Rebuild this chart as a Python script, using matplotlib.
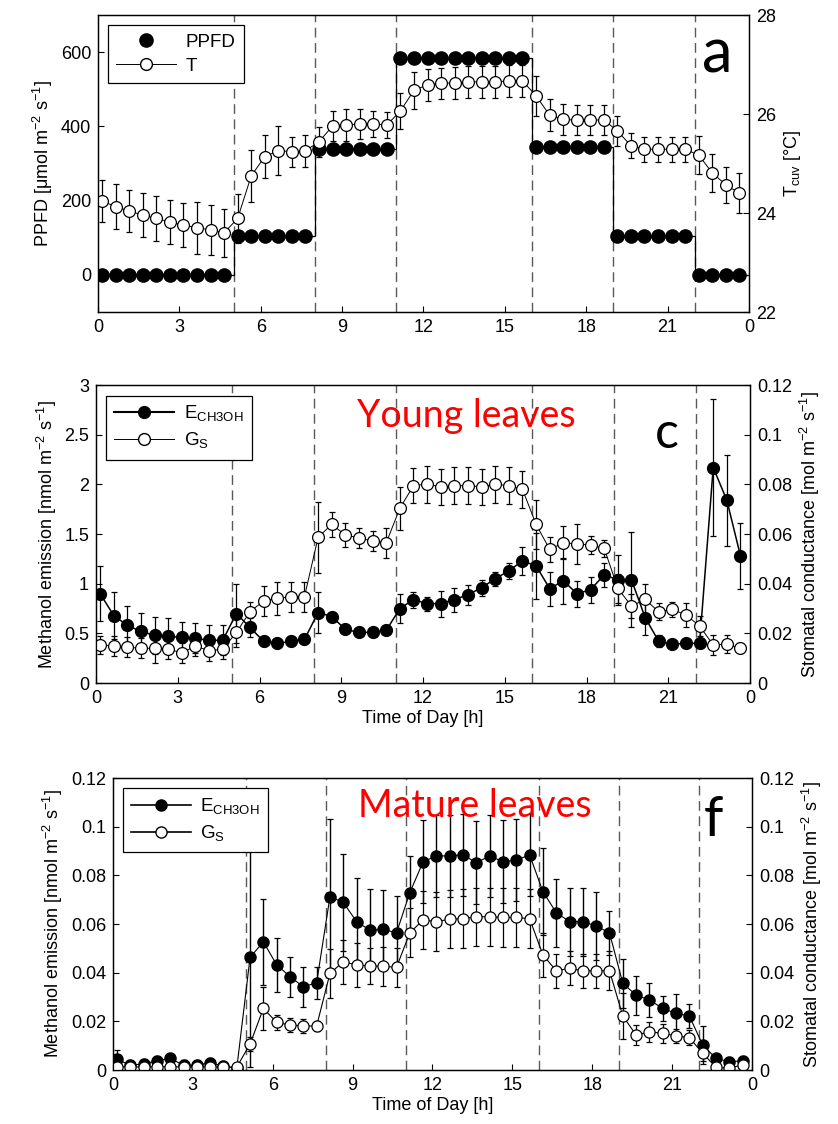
import numpy as np
import matplotlib
matplotlib.use("Agg")
import matplotlib.pyplot as plt
from matplotlib.lines import Line2D
from matplotlib.ticker import FuncFormatter

plt.rcParams['font.family'] = ['Liberation Sans', 'DejaVu Sans']
plt.rcParams['mathtext.fontset'] = 'custom'
plt.rcParams['mathtext.rm'] = 'Liberation Sans'
plt.rcParams['font.size'] = 13
plt.rcParams['axes.linewidth'] = 0.9

# half-hourly sampling times (h)
hours = np.arange(0.15, 24, 0.5)

# light schedule (step edges in h, PPFD levels)
light_edges = [0, 5, 8, 11, 16, 19, 22, 24]
light_levels = [0, 105, 340, 585, 345, 105, 0]

# panel a
ppfd = [0, 0, 0, 0, 0, 0, 0, 0, 0, 0,
        105, 105, 105, 105, 105, 105,
        340, 340, 340, 340, 340, 340,
        585, 585, 585, 585, 585, 585, 585, 585, 585, 585,
        345, 345, 345, 345, 345, 345,
        105, 105, 105, 105, 105, 105,
        0, 0, 0, 0]
temp = [24.24, 24.13, 24.04, 23.96, 23.89, 23.82, 23.76, 23.70, 23.66, 23.60,
        23.89, 24.75, 25.14, 25.26, 25.24, 25.26,
        25.44, 25.76, 25.78, 25.80, 25.80, 25.78,
        26.06, 26.48, 26.59, 26.62, 26.63, 26.65, 26.65, 26.65, 26.67, 26.67,
        26.37, 25.98, 25.89, 25.88, 25.88, 25.88,
        25.66, 25.36, 25.29, 25.29, 25.29, 25.29,
        25.17, 24.81, 24.57, 24.40]
temp_err = [0.42, 0.45, 0.42, 0.45, 0.45, 0.45, 0.45, 0.52, 0.50, 0.49,
            0.50, 0.53, 0.44, 0.50, 0.30, 0.32,
            0.30, 0.30, 0.33, 0.30, 0.27, 0.27,
            0.37, 0.37, 0.32, 0.32, 0.32, 0.32, 0.32, 0.32, 0.32, 0.32,
            0.40, 0.32, 0.32, 0.30, 0.30, 0.30,
            0.30, 0.25, 0.25, 0.25, 0.25, 0.25,
            0.38, 0.39, 0.37, 0.40]

# panel c - young leaves
young_e = [0.90, 0.68, 0.58, 0.52, 0.48, 0.47, 0.46, 0.45, 0.43, 0.43,
           0.70, 0.56, 0.42, 0.40, 0.42, 0.44,
           0.71, 0.67, 0.54, 0.51, 0.51, 0.53,
           0.75, 0.84, 0.80, 0.80, 0.84, 0.89, 0.96, 1.05, 1.13, 1.23,
           1.18, 0.95, 1.03, 0.90, 0.94, 1.09,
           1.04, 1.04, 0.66, 0.42, 0.39, 0.40,
           0.40, 2.17, 1.84, 1.28]
young_e_err = [0.28, 0.24, 0.20, 0.19, 0.19, 0.18, 0.15, 0.15, 0.15, 0.15,
               0.30, 0.10, 0.05, 0.05, 0.05, 0.05,
               0.21, 0.05, 0.04, 0.04, 0.04, 0.04,
               0.15, 0.08, 0.07, 0.13, 0.12, 0.10, 0.08, 0.07, 0.08, 0.14,
               0.33, 0.17, 0.23, 0.13, 0.13, 0.12,
               0.25, 0.48, 0.18, 0.06, 0.04, 0.04,
               0.05, 0.69, 0.46, 0.33]
young_gs = [0.0153, 0.0149, 0.0144, 0.0140, 0.0140, 0.0136, 0.0122, 0.0149, 0.0130, 0.0136,
            0.0204, 0.0287, 0.0331, 0.0341, 0.0348, 0.0348,
            0.0587, 0.0639, 0.0596, 0.0585, 0.0572, 0.0565,
            0.0704, 0.0795, 0.0801, 0.0790, 0.0795, 0.0795, 0.0790, 0.0801, 0.0795, 0.0780,
            0.0639, 0.0538, 0.0565, 0.0560, 0.0556, 0.0542,
            0.0381, 0.0310, 0.0337, 0.0287, 0.0297, 0.0274,
            0.0230, 0.0153, 0.0157, 0.0140]
young_gs_err = [0.0037, 0.004, 0.004, 0.004, 0.006, 0.004, 0.004, 0.004, 0.004, 0.004,
                0.0057, 0.004, 0.006, 0.0067, 0.006, 0.006,
                0.0144, 0.005, 0.005, 0.004, 0.004, 0.006,
                0.0087, 0.007, 0.0074, 0.0074, 0.0074, 0.0074, 0.0074, 0.0074, 0.0074, 0.0074,
                0.010, 0.005, 0.0067, 0.008, 0.0035, 0.0035,
                0.006, 0.005, 0.006, 0.0035, 0.003, 0.0047,
                0.004, 0.004, 0.0037, 0.002]

# panel f - mature leaves
mature_e = [0.0044, 0.0020, 0.0025, 0.0038, 0.0048, 0.0020, 0.0020, 0.0030, 0.0016, 0.0007,
            0.0463, 0.0527, 0.0432, 0.0384, 0.0342, 0.0359,
            0.0712, 0.0689, 0.0610, 0.0575, 0.0578, 0.0564,
            0.0729, 0.0856, 0.0880, 0.0880, 0.0884, 0.0852, 0.0880, 0.0856, 0.0863, 0.0884,
            0.0733, 0.0647, 0.0610, 0.0610, 0.0592, 0.0564,
            0.0356, 0.0308, 0.0288, 0.0253, 0.0233, 0.0222,
            0.0103, 0.0048, 0.0034, 0.0038]
mature_e_err = [0.004, 0.002, 0.002, 0.002, 0.002, 0.002, 0.002, 0.002, 0.002, 0.002,
                0.045, 0.0176, 0.011, 0.0082, 0.0082, 0.0065,
                0.032, 0.020, 0.018, 0.017, 0.016, 0.015,
                0.015, 0.017, 0.017, 0.017, 0.017, 0.017, 0.017, 0.017, 0.017, 0.017,
                0.018, 0.014, 0.014, 0.014, 0.014, 0.009,
                0.010, 0.008, 0.007, 0.005, 0.008, 0.005,
                0.008, 0.002, 0.002, 0.002]
mature_gs = [0.0014, 0.0013, 0.0012, 0.0014, 0.0013, 0.0013, 0.0013, 0.0013, 0.0012, 0.0012,
             0.0107, 0.0253, 0.0196, 0.0185, 0.0181, 0.0181,
             0.0397, 0.0445, 0.0432, 0.0427, 0.0427, 0.0422,
             0.0564, 0.0617, 0.0610, 0.0620, 0.0622, 0.0630, 0.0630, 0.0627, 0.0627, 0.0622,
             0.0473, 0.0408, 0.0418, 0.0408, 0.0408, 0.0408,
             0.0222, 0.0144, 0.0157, 0.0151, 0.0140, 0.0133,
             0.0069, 0.0011, 0.0008, 0.0021]
mature_gs_err = [0.001, 0.001, 0.001, 0.001, 0.001, 0.001, 0.001, 0.001, 0.001, 0.001,
                 0.003, 0.009, 0.003, 0.003, 0.003, 0.002,
                 0.010, 0.009, 0.009, 0.0075, 0.008, 0.008,
                 0.010, 0.012, 0.012, 0.012, 0.012, 0.012, 0.012, 0.012, 0.012, 0.012,
                 0.009, 0.007, 0.007, 0.007, 0.007, 0.008,
                 0.0095, 0.004, 0.004, 0.004, 0.003, 0.003,
                 0.003, 0.001, 0.001, 0.001]

xtick_vals = [0, 3, 6, 9, 12, 15, 18, 21, 24]
xtick_labels = ['0', '3', '6', '9', '12', '15', '18', '21', '0']

unit_nmol = r'[nmol m$^{\mathregular{-2}}$ s$^{\mathregular{-1}}$]'
unit_mol = r'[mol m$^{\mathregular{-2}}$ s$^{\mathregular{-1}}$]'
lbl_e = r'E$_{\mathregular{CH3OH}}$'
lbl_gs = r'G$_{\mathregular{S}}$'

gfmt = FuncFormatter(lambda v, p: '%g' % v)
letter_font = ['Lato', 'DejaVu Sans']
label_size = 13


def setup_axes(ax, ax2):
    ax.set_xlim(0, 24)
    ax.set_xticks(xtick_vals)
    ax.set_xticklabels(xtick_labels)
    ax.tick_params(direction='in', length=4, width=0.8, right=False, top=False, pad=5)
    ax2.tick_params(direction='in', length=4, width=0.8, pad=5)
    for x in light_edges[1:-1]:
        ax.axvline(x, color='0.35', lw=1.0, dashes=(7, 4), zorder=0)


def legend_box(ax2, handles, labels):
    leg = ax2.legend(handles, labels, loc='upper left', bbox_to_anchor=(0.015, 0.965),
                     borderaxespad=0, fancybox=False, framealpha=1, edgecolor='k',
                     handlelength=3.2, handletextpad=0.5, labelspacing=0.35,
                     borderpad=0.45, fontsize=13.5)
    leg.get_frame().set_linewidth(0.9)


fig = plt.figure(figsize=(8.38, 11.24), dpi=100)

# ---- panel a ----
ax = fig.add_axes([0.1169, 0.7224, 0.7768, 0.2642])
ax2 = ax.twinx()
setup_axes(ax, ax2)
ax.stairs(light_levels, light_edges, color='k', lw=0.9, zorder=2)
ax.plot(hours, ppfd, 'o', color='k', ms=9.5, zorder=3)
ax2.errorbar(hours, temp, yerr=temp_err, fmt='-o', color='k', lw=0.7, ms=8.5,
             mfc='white', mec='k', mew=0.9, elinewidth=0.9, capsize=2, capthick=0.9)
ax.set_ylim(-100, 700)
ax.set_yticks([0, 200, 400, 600])
ax2.set_ylim(22, 28)
ax2.set_yticks([22, 24, 26, 28])
ax.set_ylabel(r'PPFD [$\mathregular{\mu}$mol m$^{\mathregular{-2}}$ s$^{\mathregular{-1}}$]',
              fontsize=label_size)
ax2.set_ylabel(r'T$_{\mathregular{cuv}}$ [°C]', fontsize=label_size)
h_ppfd = Line2D([], [], ls='none', marker='o', color='k', ms=9.5)
h_t = Line2D([], [], ls='-', lw=0.7, marker='o', color='k', mfc='white', ms=8.5)
legend_box(ax2, [h_ppfd, h_t], ['PPFD', 'T'])
ax2.text(0.951, 0.865, 'a', transform=ax2.transAxes, fontsize=44, family=letter_font,
         ha='center', va='center')

# ---- panel c ----
ax = fig.add_axes([0.1146, 0.3923, 0.7804, 0.2651])
ax2 = ax.twinx()
setup_axes(ax, ax2)
ax.errorbar(hours, young_e, yerr=young_e_err, fmt='-o', color='k', lw=1.1, ms=8.5,
            mfc='k', elinewidth=0.9, capsize=2, capthick=0.9)
ax2.errorbar(hours, young_gs, yerr=young_gs_err, fmt='-o', color='k', lw=0.7, ms=8.5,
             mfc='white', mec='k', mew=0.9, elinewidth=0.9, capsize=2, capthick=0.9)
ax.set_ylim(0, 3)
ax.set_yticks([0, 0.5, 1, 1.5, 2, 2.5, 3])
ax.yaxis.set_major_formatter(gfmt)
ax2.set_ylim(0, 0.12)
ax2.set_yticks([0, 0.02, 0.04, 0.06, 0.08, 0.1, 0.12])
ax2.yaxis.set_major_formatter(gfmt)
ax.set_ylabel('Methanol emission ' + unit_nmol, fontsize=label_size)
ax2.set_ylabel('Stomatal conductance ' + unit_mol, fontsize=label_size)
ax.set_xlabel('Time of Day [h]', fontsize=label_size, labelpad=2)
h_e = Line2D([], [], ls='-', lw=1.5, marker='o', color='k', ms=8.5)
h_gs = Line2D([], [], ls='-', lw=0.7, marker='o', color='k', mfc='white', ms=8.5)
legend_box(ax2, [h_e, h_gs], [lbl_e, lbl_gs])
ax2.text(0.566, 0.859, 'Young leaves', transform=ax2.transAxes, fontsize=27,
         family=letter_font, color='#ff0000', ha='center', va='baseline')
ax2.text(0.873, 0.836, 'c', transform=ax2.transAxes, fontsize=36, family=letter_font,
         ha='center', va='center')

# ---- panel f ----
ax = fig.add_axes([0.1348, 0.0480, 0.7625, 0.2598])
ax2 = ax.twinx()
setup_axes(ax, ax2)
ax.errorbar(hours, mature_e, yerr=mature_e_err, fmt='-o', color='k', lw=0.8, ms=8,
            mfc='k', elinewidth=1.0, capsize=2, capthick=0.9)
ax2.errorbar(hours, mature_gs, yerr=mature_gs_err, fmt='-o', color='k', lw=0.8, ms=8,
             mfc='white', mec='k', mew=0.9, elinewidth=0.9, capsize=2, capthick=0.9)
for a_ in (ax, ax2):
    a_.set_ylim(0, 0.12)
    a_.set_yticks([0, 0.02, 0.04, 0.06, 0.08, 0.1, 0.12])
    a_.yaxis.set_major_formatter(gfmt)
ax.set_ylabel('Methanol emission ' + unit_nmol, fontsize=label_size)
ax2.set_ylabel('Stomatal conductance ' + unit_mol, fontsize=label_size)
ax.set_xlabel('Time of Day [h]', fontsize=label_size, labelpad=2)
h_e = Line2D([], [], ls='-', lw=1.2, marker='o', color='k', ms=8)
h_gs = Line2D([], [], ls='-', lw=1.2, marker='o', color='k', mfc='white', ms=8)
legend_box(ax2, [h_e, h_gs], [lbl_e, lbl_gs])
ax2.text(0.567, 0.866, 'Mature leaves', transform=ax2.transAxes, fontsize=27,
         family=letter_font, color='#ff0000', ha='center', va='baseline')
ax2.text(0.94, 0.856, 'f', transform=ax2.transAxes, fontsize=40, family=letter_font,
         ha='center', va='center')

fig.savefig('out.png', dpi=100)
